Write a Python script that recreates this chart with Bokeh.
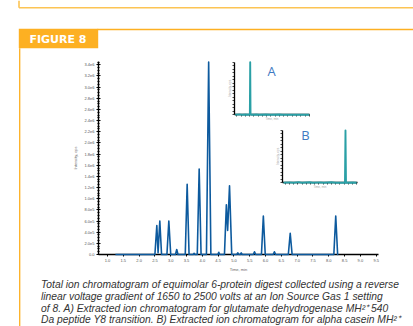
from bokeh.plotting import figure
from bokeh.models import Range1d, LinearAxis, FixedTicker, SingleIntervalTicker
from bokeh.core.properties import value
from bokeh.embed import file_html
from bokeh.resources import INLINE

W, H = 413, 326

# ---------------- data ----------------
tic_time = [1.25, 2.50, 2.56, 2.60, 2.655, 2.71, 2.88, 2.94, 3.00, 3.15, 3.19, 3.23,
            3.46, 3.52, 3.58, 3.71, 3.74, 3.77, 3.84, 3.90, 3.96, 4.13, 4.20, 4.27,
            4.49, 4.52, 4.55, 4.70, 4.76, 4.80, 4.86, 4.93, 5.09, 5.12, 5.16, 5.20,
            5.23, 5.26, 5.61, 5.65, 5.69, 5.87, 5.93, 5.99, 6.24, 6.28, 6.32, 6.72,
            6.78, 6.84, 8.16, 8.22, 8.28, 8.30]
tic_intensity = [0, 0, 5.2e5, 0.3e5, 6.0e5, 0, 0, 6.0e5, 0, 0, 0.9e5, 0,
                 0, 12.6e5, 0, 0, 0.2e5, 0, 0, 15.3e5, 0, 0, 34.5e5, 0,
                 0, 0.4e5, 0, 0, 8.9e5, 4.3e5, 12.3e5, 0, 0, 0.3e5, 0, 0,
                 0.3e5, 0, 0, 0.5e5, 0, 0, 6.9e5, 0, 0, 0.5e5, 0, 0,
                 3.8e5, 0, 0, 6.9e5, 0, 0]

x_tick_values = [1.0, 1.5, 2.0, 2.5, 3.0, 3.5, 4.0, 4.5, 5.0, 5.5, 6.0, 6.5, 7.0, 7.5, 8.0, 8.5, 9.0, 9.5]
x_tick_labels = ["1.0", "1.5", "2.0", "2.5", "3.0", "3.5", "4.0", "4.5", "5.0", "5.5", "6.0", "6.5",
                 "7.0", "7.5", "8.0", "8.5", "9.0", "9.5"]
y_tick_values = [0, 200000, 400000, 600000, 800000, 1000000, 1200000, 1400000, 1600000, 1800000,
                 2000000, 2200000, 2400000, 2600000, 2800000, 3000000, 3200000, 3400000]
y_tick_labels = ["0.0", "2.0e5", "4.0e5", "6.0e5", "8.0e5", "1.0e6", "1.2e6", "1.4e6", "1.6e6", "1.8e6",
                 "2.0e6", "2.2e6", "2.4e6", "2.6e6", "2.8e6", "3.0e6", "3.2e6", "3.4e6"]

xic_a_time = [0.80, 1.30, 1.60, 2.00, 2.45, 2.52, 2.56, 2.60, 2.66, 3.30, 3.60, 4.40, 5.00, 6.00, 6.40, 7.50, 9.50]
xic_a_intensity = [0, 120, 0, 90, 0, 300, 15000, 200, 0, 100, 0, 80, 0, 90, 0, 60, 0]
xic_b_time = [0.80, 1.50, 2.00, 2.60, 3.00, 3.90, 4.30, 5.20, 5.60, 6.50, 7.00, 8.11, 8.17, 8.23, 9.00, 9.50]
xic_b_intensity = [0, 40, 0, 60, 0, 50, 0, 40, 0, 50, 0, 0, 4500, 0, 30, 0]

caption_lines = [
    "Total ion chromatogram of equimolar 6-protein digest collected using a reverse",
    "linear voltage gradient of 1650 to 2500 volts at an Ion Source Gas 1 setting",
    "of 8. A) Extracted ion chromatogram for glutamate dehydrogenase MH\u00b2\u207a 540",
    "Da peptide Y8 transition. B) Extracted ion chromatogram for alpha casein MH\u00b2\u207a",
]

# ---------------- layout helpers ----------------
def lin(d0, p0, d1, p1):
    s = (d1 - d0) / (p1 - p0)
    return lambda px: d0 + (px - p0) * s

def xrange_for(f):
    return Range1d(start=f(0), end=f(W))

def yrange_for(f):
    return Range1d(start=f(H), end=f(0))

# main chart geometry (pixels)
MX0, MX1, MY0, MY1 = 98.0, 377.7, 254.0, 61.0
t_of = lin(1.0, 107.0, 9.5, 375.7)
i_of = lin(0.0, 254.0, 3.4e6, 64.3)
T_LO, T_HI = t_of(MX0), t_of(MX1)

# inset A / B geometry (pixels)
AX0, AX1, AY0, AY1 = 234.0, 309.3, 114.3, 61.7
BX0, BX1, BY0, BY1 = 282.3, 356.7, 182.3, 130.0
ta_of = lin(T_LO, AX0, T_HI, AX1)
ia_of = lin(0.0, AY0, 15000.0, AY1)
tb_of = lin(T_LO, BX0, T_HI, BX1)
ib_of = lin(0.0, BY0, 4500.0, BY1)

p = figure(width=W, height=H, x_range=(0, W), y_range=(H, 0),
           x_axis_type=None, y_axis_type=None, output_backend="svg",
           toolbar_location=None, min_border=0, outline_line_color=None,
           background_fill_color="white", border_fill_color="white")
p.min_border_left = p.min_border_right = p.min_border_top = p.min_border_bottom = 0
p.grid.visible = False

p.extra_x_ranges = {"t": xrange_for(t_of), "ta": xrange_for(ta_of), "tb": xrange_for(tb_of)}
p.extra_y_ranges = {"i": yrange_for(i_of), "ia": yrange_for(ia_of), "ib": yrange_for(ib_of)}

# ---------------- page decoration ----------------
ORANGE = "#FDB022"
LIGHT = "#FCC454"
p.segment(x0=[18.5, 18.5], y0=[0, 7.3], x1=[18.5, W], y1=[7.3, 7.3], line_color=LIGHT, line_width=1.6)
p.segment(x0=[97], y0=[29], x1=[W], y1=[29], line_color=ORANGE, line_width=1.3)
p.quad(left=[18.3], right=[97.7], top=[28.3], bottom=[47.7], fill_color=ORANGE, line_color=None)
p.segment(x0=[19.2], y0=[47.7], x1=[19.2], y1=[H], line_color=ORANGE, line_width=1.3)
p.text(x=[57.5], y=[38.6], text=["FIGURE 8"], text_align="center", text_baseline="middle",
       text_font=value("DejaVu Sans"), text_font_style="bold", text_font_size="11px", text_color="white")

p.text(x=[40.5] * 4, y=[284.0, 295.8, 307.6, 319.4], text=caption_lines, text_align="left",
       text_baseline="middle", text_font=value("Liberation Sans"), text_font_style="italic",
       text_font_size="10.3px", text_color="#333333")

# ---------------- main chromatogram ----------------
xa = LinearAxis(x_range_name="t", fixed_location=MY0, bounds=(T_LO, T_HI),
                ticker=FixedTicker(ticks=x_tick_values, minor_ticks=[]),
                major_label_overrides=dict(zip(x_tick_values, x_tick_labels)),
                axis_label="Time, min", level="underlay")
ya = LinearAxis(y_range_name="i", fixed_location=MX0, bounds=(0, i_of(MY1)),
                ticker=SingleIntervalTicker(interval=200000, num_minor_ticks=4),
                major_label_overrides=dict(zip(y_tick_values, y_tick_labels)),
                axis_label="Intensity, cps", level="underlay")
for ax in (xa, ya):
    ax.axis_line_color = "black"
    ax.axis_line_width = 1.4
    ax.major_tick_line_color = "black"
    ax.minor_tick_line_color = "black"
    ax.major_label_text_font_size = "4px"
    ax.major_label_text_color = "#555555"
    ax.major_label_text_font = "Liberation Sans"
    ax.axis_label_text_font_size = "4px"
    ax.axis_label_text_color = "#666666"
    ax.axis_label_text_font_style = "normal"
    ax.axis_label_text_font = "Liberation Sans"
    ax.major_label_standoff = 2
    ax.axis_label_standoff = 2
xa.major_tick_out, xa.major_tick_in = 2, 0
ya.major_tick_out, ya.major_tick_in = 2, 2
ya.minor_tick_out, ya.minor_tick_in = 1, 1
ya.axis_label_standoff = 3
p.add_layout(xa, "below")
p.add_layout(ya, "left")

p.line(tic_time, tic_intensity, x_range_name="t", y_range_name="i",
       line_color="#0d5a9e", line_width=1.6, line_join="round")

# ---------------- insets ----------------
def inset(xname, yname, x0, y0, ybound_top, minor_y, times, vals):
    ax_x = LinearAxis(x_range_name=xname, y_range_name="default", fixed_location=y0,
                      bounds=(T_LO, T_HI), ticker=FixedTicker(ticks=[], minor_ticks=x_tick_values),
                      axis_label="Time, min", level="underlay")
    ax_y = LinearAxis(y_range_name=yname, x_range_name="default", fixed_location=x0,
                      bounds=(0, ybound_top), ticker=FixedTicker(ticks=[], minor_ticks=minor_y),
                      axis_label="Intensity, cps", level="underlay")
    for ax in (ax_x, ax_y):
        ax.axis_line_color = "black"
        ax.axis_line_width = 1.3
        ax.minor_tick_line_color = "black"
        ax.minor_tick_line_width = 0.7
        ax.minor_tick_out, ax.minor_tick_in = 2, 0
        ax.axis_label_text_font_size = "3px"
        ax.axis_label_text_color = "#aaaaaa"
        ax.axis_label_text_font_style = "normal"
        ax.axis_label_standoff = 1
    p.add_layout(ax_x, "below")
    p.add_layout(ax_y, "left")
    p.line(times, vals, x_range_name=xname, y_range_name=yname,
           line_color="#2aa0a6", line_width=1.9, line_join="round")

inset("ta", "ia", AX0, AY0, 15000, [k * 1000 for k in range(16)], xic_a_time, xic_a_intensity)
inset("tb", "ib", BX0, BY0, 4500, [k * 300 for k in range(16)], xic_b_time, xic_b_intensity)

p.text(x=[271.0, 305.0], y=[70.7, 134.5], text=["A", "B"], text_align="center", text_baseline="middle",
       text_font=value("Open Sans"), text_font_size="13px", text_color="#3f7ac2")

open("out.html", "w").write(file_html(p, INLINE))
